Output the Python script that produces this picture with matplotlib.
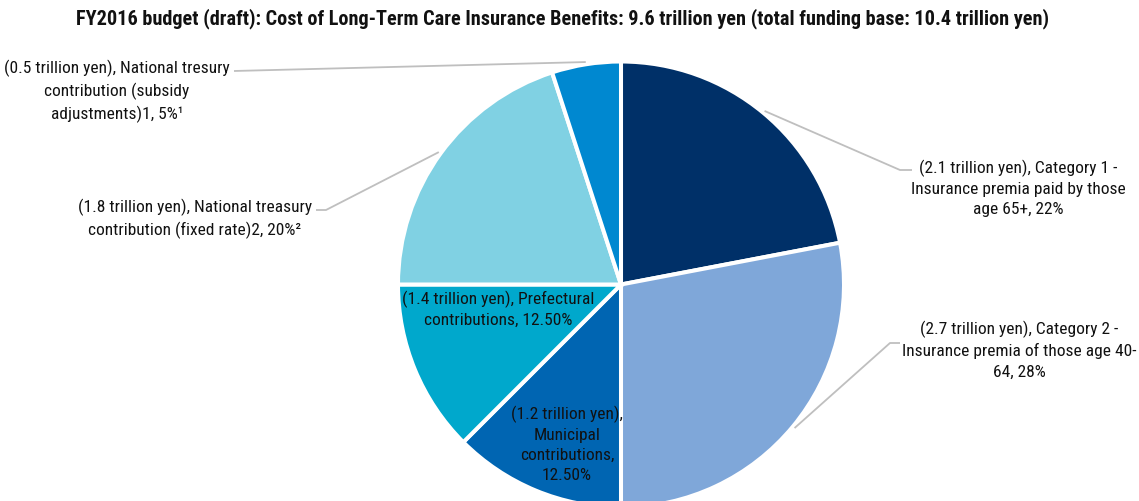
import matplotlib
matplotlib.use("Agg")
import matplotlib.pyplot as plt
import numpy as np

# slices clockwise from 12 o'clock
shares = [22, 28, 12.5, 12.5, 20, 5]
amounts = ["2.1", "2.7", "1.2", "1.4", "1.8", "0.5"]
colors = ["#003068", "#7FA7D9", "#0065B2", "#00A8CC", "#80D1E3", "#0088D0"]

labels = [
    "(2.1 trillion yen), Category 1 -\nInsurance premia paid by those\nage 65+, 22%",
    "(2.7 trillion yen), Category 2 -\nInsurance premia of those age 40-\n64, 28%",
    "(1.2 trillion yen),\nMunicipal\ncontributions,\n12.50%",
    "(1.4 trillion yen), Prefectural\ncontributions, 12.50%",
    "(1.8 trillion yen), National treasury\ncontribution (fixed rate)2, 20%\u00b2",
    "(0.5 trillion yen), National tresury\ncontribution (subsidy\nadjustments)1, 5%\u00b9",
]
title = ("FY2016 budget (draft): Cost of Long-Term Care Insurance Benefits: "
         "9.6 trillion yen (total funding base: 10.4 trillion yen)")

W, H = 1139, 502
CX, CY, R = 621, 285.5, 223

plt.rcParams["font.family"] = ["Roboto Condensed", "Liberation Sans", "DejaVu Sans"]


def px(x, y):
    # pixel position -> data units (pie radius = 1)
    return (x - CX) / R, (CY - y) / R


fig = plt.figure(figsize=(W / 100, H / 100), dpi=100)
ax = fig.add_axes([0, 0, 1, 1])

wedges, _ = ax.pie(shares, colors=colors, startangle=90, counterclock=False,
                   radius=1, wedgeprops=dict(edgecolor="white", linewidth=2.9))

ax.set_aspect("auto")
ax.set_xlim(px(0, 0)[0], px(W, 0)[0])
ax.set_ylim(px(0, H)[1], px(0, 0)[1])
ax.axis("off")

# label anchor (text centre) and leader elbow, in pixels; None = no leader
text_pos = [(1018, 188), (1019, 350), (567, 444), (498, 309), (195, 219), (117, 91)]
elbows = [(900, 171), (890, 344), None, None, (326, 211), None]
ends = [(912, 171), (900, 344), None, None, (316, 211), (234, 72)]

for w, lab, tp, el, en in zip(wedges, labels, text_pos, elbows, ends):
    mid = np.deg2rad((w.theta1 + w.theta2) / 2)
    tx, ty = px(*tp)
    ax.text(tx, ty, lab, ha="center", va="center", fontsize=12.5,
            color="#111111", linespacing=1.42)
    if en is None:
        continue
    sx, sy = 1.01 * np.cos(mid), 1.01 * np.sin(mid)
    pts = [(sx, sy)]
    if el is not None:
        pts.append(px(*el))
    pts.append(px(*en))
    xs, ys = zip(*pts)
    ax.plot(xs, ys, color="#BFBFBF", lw=1.3, solid_capstyle="butt")

tx, ty = px(563, 19)
ax.text(tx, ty, title, ha="center", va="center", fontsize=14.6,
        fontweight="bold", color="#111111")

fig.savefig("out.png", dpi=100)
